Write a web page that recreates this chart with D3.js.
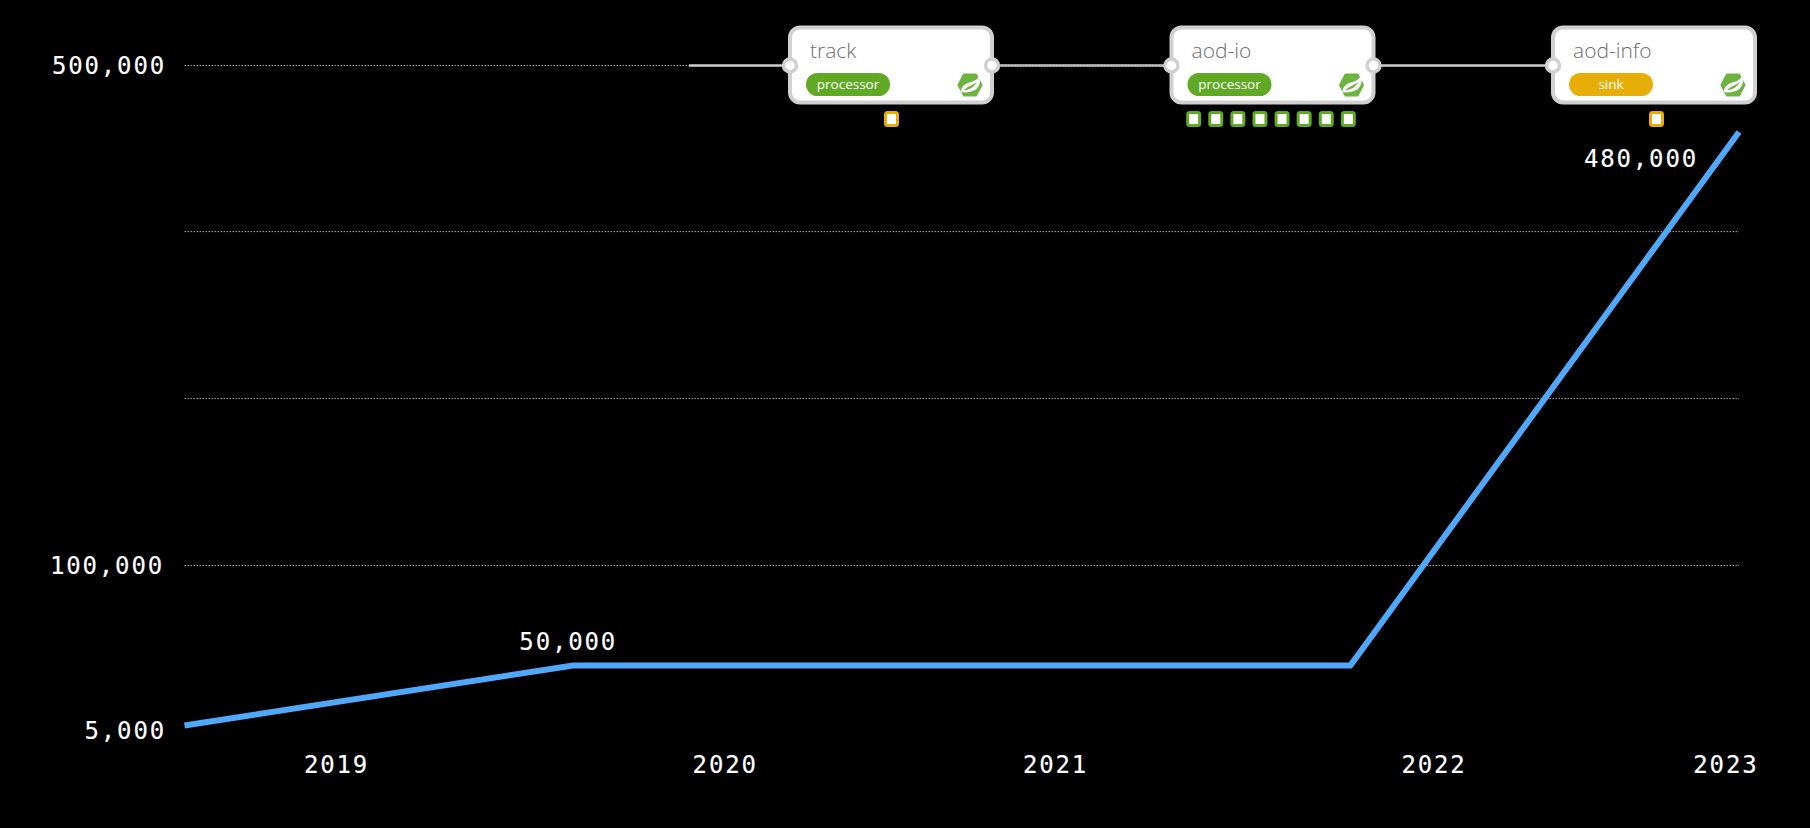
<!DOCTYPE html>
<html>
<head>
<meta charset="utf-8">
<script src="https://cdn.jsdelivr.net/npm/d3@7"></script>
<style>
  html, body { margin: 0; background: #000; overflow: hidden; }
  .tick-text { font-family: "DejaVu Sans Mono", monospace; font-size: 24px; fill: #fff; stroke: #fff; stroke-width: 0.15px; letter-spacing: 1.85px; }
  .node-title { font-family: "Open Sans", sans-serif; font-size: 21px; font-weight: 300; fill: #6e6e6e; }
  .node-type { font-family: "Open Sans", sans-serif; font-size: 13.5px; fill: #fff; text-anchor: middle; }
</style>
</head>
<body>
<div id="chart"></div>
<script>
//Values.
const pointSteps = [0, 1, 2, 3, 4];
const jobs = [5000, 50000, 50000, 50000, 480000];
const pointLabels = ["", "50,000", "", "", "480,000"];

//The year labels do not sit on the points, so they keep their own place on the x scale.
const yearLabels = ["2019", "2020", "2021", "2022", "2023"];
const yearSteps = [0.39, 1.39, 2.24, 3.214, 3.965];

const yLabelValues = [5000, 100000, 500000];
const gridValues = [100000, 246500, 393000, 500000];

//The pipeline drawn over the top of the chart.
const nodeNames = ["track", "aod-io", "aod-info"];
const nodeTypes = ["processor", "processor", "sink"];
const nodeInstances = [1, 8, 1];

const width = 1810;
const height = 828;
const margin = { left: 184.5, right: 71 };

const svg = d3.select("#chart")
  .append("svg")
  .attr("width", width)
  .attr("height", height)
  .style("display", "block");

const xScale = d3.scaleLinear()
  .domain([0, 4])
  .range([margin.left, width - margin.right]);

//The axis of the original is not even, so the scale has a knot at each value it shows.
const yScale = d3.scaleLinear()
  .domain([5000, 50000, 100000, 480000, 500000])
  .range([725.5, 665.5, 565, 132, 65]);

//Dotted grid lines.
const grid = svg.append("g")
  .attr("transform", `translate(${margin.left},0)`)
  .call(d3.axisLeft(yScale).tickValues(gridValues).tickSize(-(width - margin.left - margin.right)).tickFormat(""));
grid.select(".domain").remove();
grid.selectAll("line")
  .attr("stroke", "#a8a8a8")
  .attr("stroke-width", 1)
  .attr("stroke-dasharray", "1.5 1.5");

//Y axis labels.
const yAxis = svg.append("g")
  .attr("transform", `translate(166,0)`)
  .call(d3.axisLeft(yScale).tickValues(yLabelValues).tickSize(0).tickPadding(0).tickFormat(d3.format(",")));
yAxis.select(".domain").remove();
yAxis.selectAll("text")
  .attr("class", "tick-text")
  .attr("fill", null)
  .attr("x", d => d === 100000 ? -2 : 0)
  .attr("y", d => d === 5000 ? 4 : 0)
  .attr("dy", "0.36em");

//X axis labels.
const xAxis = svg.append("g")
  .attr("transform", `translate(0,764)`)
  .call(d3.axisBottom(xScale).tickValues(yearSteps).tickSize(0).tickPadding(0).tickFormat((d, i) => yearLabels[i]));
xAxis.select(".domain").remove();
xAxis.selectAll("text")
  .attr("class", "tick-text")
  .attr("fill", null)
  .attr("y", 0)
  .attr("dy", "0.36em");

//The line itself.
const line = d3.line()
  .x((d, i) => xScale(pointSteps[i]))
  .y(d => yScale(d));

svg.append("path")
  .datum(jobs)
  .attr("d", line)
  .attr("fill", "none")
  .attr("stroke", "#4fa8f9")
  .attr("stroke-width", 6);

//Labels of the points. Each one sits up and to the left of its point.
svg.selectAll(".point-label")
  .data(jobs)
  .enter()
  .append("text")
  .attr("class", "tick-text point-label")
  .attr("text-anchor", "end")
  .attr("x", (d, i) => xScale(pointSteps[i]) + (i === 1 ? 44 : -41))
  .attr("y", (d, i) => yScale(d) + (i === 1 ? -16 : 35))
  .text((d, i) => pointLabels[i]);

//Pipeline nodes.
const nodeWidth = 202;
const nodeHeight = 75;
const nodeScale = d3.scalePoint()
  .domain(nodeNames)
  .range([790, 1553]);
const nodeTop = 27.5;
const wireY = 65.5;
const typeColor = { processor: "#5fa924", sink: "#e6ae06" };

//Wires first, so that the nodes cover their ends.
const wires = [[689, 790], [992, 1171.5], [1373.5, 1553]];
const wireLines = svg.selectAll(".wire")
  .data(wires)
  .enter()
  .append("line")
  .attr("class", "wire")
  .attr("x1", d => d[0])
  .attr("x2", d => d[1])
  .attr("y1", wireY)
  .attr("y2", wireY)
  .attr("stroke", "#cfcfcf")
  .attr("stroke-width", 2.5);

//The grid shows through the middle wire only.
wireLines.filter((d, i) => i === 1).lower();

const nodes = svg.selectAll(".node")
  .data(nodeNames)
  .enter()
  .append("g")
  .attr("class", "node")
  .attr("transform", d => `translate(${nodeScale(d)},${nodeTop})`);

nodes.append("rect")
  .attr("width", nodeWidth)
  .attr("height", nodeHeight)
  .attr("rx", 10)
  .attr("fill", "#fff")
  .attr("stroke", "#d0d0d0")
  .attr("stroke-width", 4);

nodes.append("text")
  .attr("class", "node-title")
  .attr("x", 20)
  .attr("y", 30)
  .text(d => d);

nodes.append("rect")
  .attr("x", 16)
  .attr("y", 45.5)
  .attr("width", 84)
  .attr("height", 23)
  .attr("rx", 11.5)
  .attr("fill", (d, i) => typeColor[nodeTypes[i]]);

nodes.append("text")
  .attr("class", "node-type")
  .attr("x", 58)
  .attr("y", 61.5)
  .text((d, i) => nodeTypes[i]);

//Port circles on both sides, the last node only has an input.
nodes.each(function (d, i) {
  const ports = i === nodeNames.length - 1 ? [0] : [0, nodeWidth];
  d3.select(this).selectAll("circle")
    .data(ports)
    .enter()
    .append("circle")
    .attr("cx", p => p)
    .attr("cy", wireY - nodeTop)
    .attr("r", 6.5)
    .attr("fill", "#fff")
    .attr("stroke", "#d0d0d0")
    .attr("stroke-width", 3.5);
});

//Spring logo, a green hexagon with a white swoosh in it.
const logo = nodes.append("g")
  .attr("transform", `translate(180,57.5)`);
logo.append("path")
  .attr("d", "M-6,-10.5 L6,-10.5 L11.5,0 L6,10.5 L-6,10.5 L-11.5,0 Z")
  .attr("fill", "#6db33f")
  .attr("stroke", "#6db33f")
  .attr("stroke-width", 2)
  .attr("stroke-linejoin", "round");
logo.append("path")
  .attr("d", "M-9,7 C-9,1 -4,-2 1,-3 C5,-4 8,-6 10,-11 C11,-5 10,2 5,5 C1,7 -5,8 -9,7 Z M-6,5 C-1,5 3,3 7,-3 C3,0 -2,1 -6,5 Z")
  .attr("fill", "#fff")
  .attr("fill-rule", "evenodd");

//Instance squares below each node.
const instanceStep = 22.1;
const instanceCentre = [101.5, 99.5, 103.5];
nodes.each(function (d, i) {
  const count = d3.range(nodeInstances[i]);
  d3.select(this).selectAll(".instance")
    .data(count)
    .enter()
    .append("rect")
    .attr("class", "instance")
    .attr("x", c => instanceCentre[i] + (c - (count.length - 1) / 2) * instanceStep - 6)
    .attr("y", 85)
    .attr("width", 12)
    .attr("height", 13)
    .attr("rx", 2)
    .attr("fill", "#fff")
    .attr("stroke", typeColor[i === 1 ? "processor" : "sink"])
    .attr("stroke-width", 3);
});
</script>
</body>
</html>
